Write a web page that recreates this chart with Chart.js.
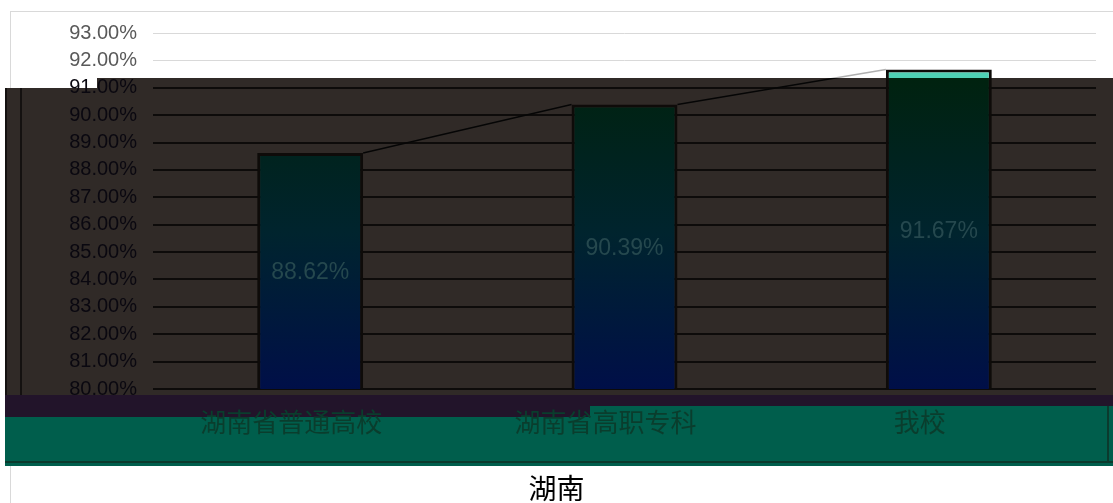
<!DOCTYPE html>
<html>
<head>
<meta charset="utf-8">
<script src="https://cdn.jsdelivr.net/npm/chart.js@4"></script>
<style>
  html, body { margin: 0; padding: 0; background: #fff; }
  #wrap { width: 1113px; height: 503px; position: relative; }
</style>
</head>
<body>
<div id="wrap"><canvas id="rateChart"></canvas></div>
<script>
// chart data
const categories = ["湖南省普通高校", "湖南省高职专科", "我校"];
const rates = [88.62, 90.39, 91.67];
const yMin = 80;
const yMax = 93;
const axisTitle = "湖南";

// the dark top edge of the plot panel (pixels)
const DARK_TOP = 78;
const NUM_FONT = "'Liberation Sans', Arial, sans-serif";

// Background panels behind the plot
const backdrop = {
  id: "backdrop",
  beforeDraw(chart) {
    const c = chart.ctx;
    const w = chart.width;
    c.save();
    c.fillStyle = "#ffffff";
    c.fillRect(0, 0, w, chart.height);
    // light outer frame
    c.strokeStyle = "#d9d9d9";
    c.lineWidth = 1;
    c.strokeRect(10.5, 11.5, w + 20, chart.height);
    // dark plot panel
    c.fillStyle = "#302a27";
    c.fillRect(97, DARK_TOP, w - 97, 10);
    c.fillRect(5, DARK_TOP + 10, w - 5, 395 - DARK_TOP - 10);
    // purple strip
    c.fillStyle = "#22142a";
    c.fillRect(5, 395, w - 5, 22);
    // teal label band
    c.fillStyle = "#005e4c";
    c.fillRect(5, 417, 585, 49);
    c.fillRect(590, 406, w - 590, 60);
    c.fillStyle = "#0b3a2d";
    c.fillRect(5, 461, w - 5, 2);
    c.fillRect(1107, 406, 2, 56);
    // left edge lines
    c.fillStyle = "#141110";
    c.fillRect(5, DARK_TOP + 10, 2, 395 - DARK_TOP - 10);
    c.fillRect(20, DARK_TOP + 10, 2, 395 - DARK_TOP - 10);
    c.restore();
  }
};

// series lines between bars + value labels
const barExtras = {
  id: "barExtras",
  afterDraw(chart) {
    const c = chart.ctx;
    const yScale = chart.scales.y;
    const bars = chart.getDatasetMeta(0).data;
    c.save();
    const g = c.createLinearGradient(0, 0, 0, chart.height);
    const s = DARK_TOP / chart.height;
    g.addColorStop(0, "#b0b0b0");
    g.addColorStop(s, "#b0b0b0");
    g.addColorStop(s, "#050505");
    g.addColorStop(1, "#050505");
    c.strokeStyle = g;
    c.lineWidth = 1.5;
    for (let i = 0; i < bars.length - 1; i++) {
      const a = bars[i], b = bars[i + 1];
      c.beginPath();
      c.moveTo(a.x + a.width / 2, a.y);
      c.lineTo(b.x - b.width / 2, b.y);
      c.stroke();
    }
    c.fillStyle = "#25484e";
    c.font = "23px " + NUM_FONT;
    c.textAlign = "center";
    c.textBaseline = "middle";
    bars.forEach((el, i) => {
      const top = yScale.getPixelForValue(rates[i]);
      const bottom = yScale.getPixelForValue(yMin);
      c.fillText(rates[i].toFixed(2) + "%", el.x, (top + bottom) / 2 + 2);
    });
    c.restore();
  }
};

function barFill(context) {
  const chart = context.chart;
  const area = chart.chartArea;
  if (!area) return "#002a14";
  const g = chart.ctx.createLinearGradient(0, 0, 0, area.bottom);
  const s = DARK_TOP / area.bottom;
  g.addColorStop(0, "#4fd1b5");
  g.addColorStop(s, "#4fd1b5");
  g.addColorStop(s, "#00220f");
  g.addColorStop(0.6, "#00242e");
  g.addColorStop(1, "#000f48");
  return g;
}

const ctx = document.getElementById("rateChart").getContext("2d");
new Chart(ctx, {
  type: "bar",
  data: {
    labels: categories,
    datasets: [
      {
        data: rates,
        backgroundColor: barFill,
        borderColor: "#0e0b09",
        borderWidth: 3,
        borderSkipped: false,
        categoryPercentage: 1,
        barPercentage: 0.337,
      },
    ],
  },
  plugins: [backdrop, barExtras],
  options: {
    responsive: true,
    maintainAspectRatio: false,
    animation: false,
    layout: { padding: { top: 33, left: 0, right: 0, bottom: 0 } },
    plugins: {
      legend: { display: false },
      tooltip: { enabled: false },
      title: {
        display: true,
        position: "bottom",
        text: axisTitle,
        color: "#000000",
        font: { family: "'Noto Sans CJK SC', sans-serif", size: 28, weight: "normal", lineHeight: 1 },
        padding: { top: 36, bottom: 1 },
      },
    },
    scales: {
      x: {
        afterFit: (s) => { s.height = 49; },
        grid: { display: false, drawTicks: false },
        border: { display: false },
        ticks: {
          color: "#0a3d2d",
          padding: 18,
          labelOffset: -19,
          maxRotation: 0,
          font: { family: "'Noto Sans CJK SC', sans-serif", size: 26 },
        },
      },
      y: {
        min: yMin,
        max: yMax,
        afterFit: (s) => { s.width = 153; },
        border: { display: false },
        grid: {
          drawTicks: false,
          color: (c) => (c.tick && c.tick.value >= 92 ? "#d9d9d9" : "#0d0b0a"),
          lineWidth: (c) => (c.tick && c.tick.value >= 92 ? 1 : 2),
        },
        ticks: {
          stepSize: 1,
          autoSkip: false,
          padding: 16,
          color: (c) => (c.tick && c.tick.value >= 92 ? "#595959" : "#0a0810"),
          font: { family: NUM_FONT, size: 20 },
          callback: (v) => v.toFixed(2) + "%",
        },
      },
      pad: {
        position: "right",
        display: true,
        grid: { display: false },
        border: { display: false },
        ticks: { display: false },
        afterFit: (s) => { s.width = 17; },
      },
    },
  },
});
</script>
</body>
</html>
